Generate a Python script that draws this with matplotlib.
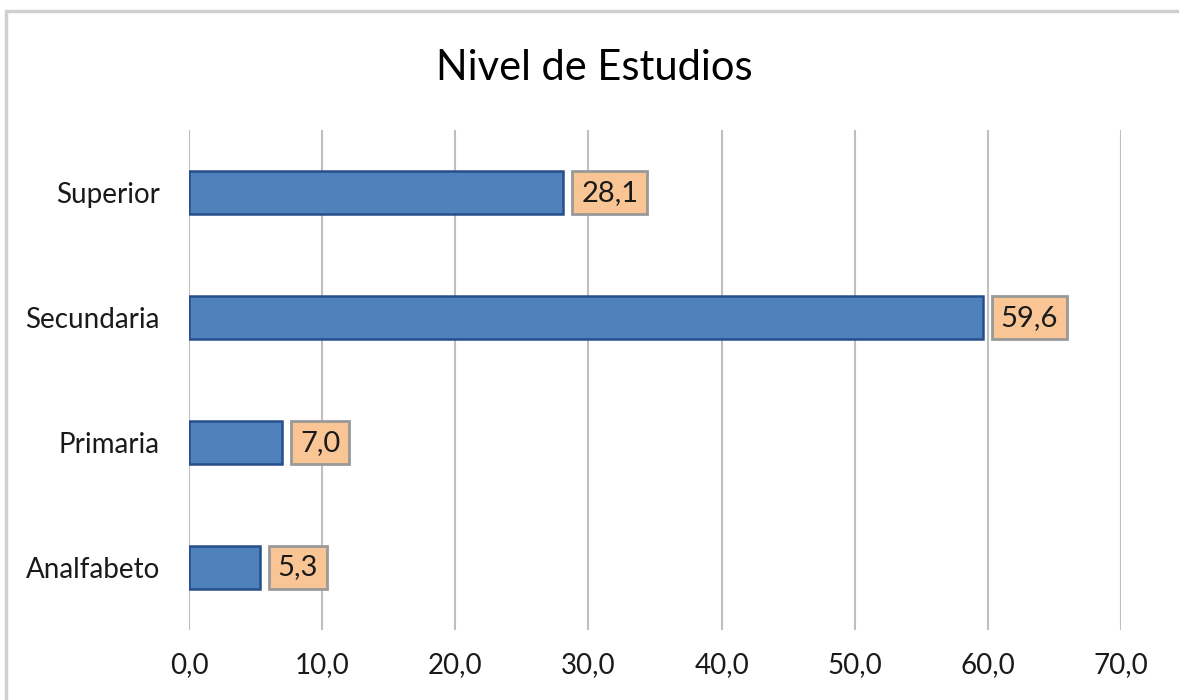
import matplotlib.pyplot as plt
from matplotlib.patches import Rectangle
from matplotlib import font_manager

# Education level shares (%)
niveles = ["Analfabeto", "Primaria", "Secundaria", "Superior"]
porcentajes = [5.3, 7.0, 59.6, 28.1]
x_ticks = [0, 10, 20, 30, 40, 50, 60, 70]

# humanist sans if present, close to the office look
available = {f.name for f in font_manager.fontManager.ttflist}
font = "Lato" if "Lato" in available else "DejaVu Sans"
plt.rcParams['font.family'] = [font, 'DejaVu Sans']


def fmt(v):
    return f"{v:.1f}".replace(".", ",")


fig = plt.figure(figsize=(11.79, 7.0), dpi=100)
ax = fig.add_axes([0.1603, 0.1, 0.7905, 0.714])

ypos = range(len(niveles))
ax.barh(ypos, porcentajes, height=0.345, color="#4F81BD",
        edgecolor="#264F8A", linewidth=1.8, zorder=3)

# value labels in boxes next to each bar
for y, v in zip(ypos, porcentajes):
    ax.annotate(fmt(v), xy=(v, y), xytext=(13, 0), textcoords="offset points",
                ha="left", va="center", fontsize=21, color="#1a1a1a",
                bbox=dict(boxstyle="square,pad=0.3", facecolor="#FAC595",
                          edgecolor="#999999", linewidth=2), zorder=4)

ax.set_xlim(0, 70)
ax.set_ylim(-0.5, len(niveles) - 0.5)
ax.set_xticks(x_ticks)
ax.set_xticklabels([fmt(t) for t in x_ticks], fontsize=20)
ax.set_yticks(list(ypos))
ax.set_yticklabels(niveles, fontsize=20)
ax.tick_params(axis="both", length=0, colors="#1a1a1a")
ax.tick_params(axis="y", pad=21)
ax.tick_params(axis="x", pad=16)
ax.grid(axis="x", color="#BFBFBF", linewidth=1.5, zorder=0)
for s in ax.spines.values():
    s.set_visible(False)

fig.text(0.504, 0.903, "Nivel de Estudios", ha="center", va="center", fontsize=30)

# chart outer frame
fig.patches.append(Rectangle((0.005, -0.05), 1.2, 1.035, transform=fig.transFigure,
                             fill=False, edgecolor="#D0D0D0", linewidth=2.5))

fig.savefig("out.png", dpi=100)
